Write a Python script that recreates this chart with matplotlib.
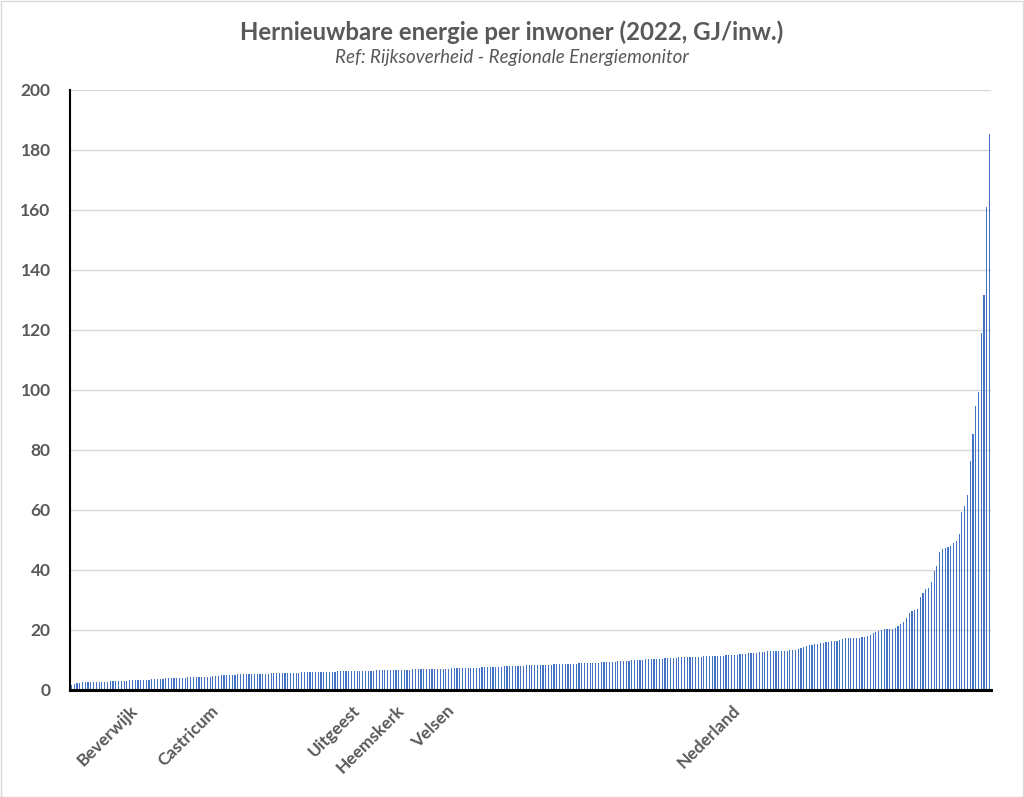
import matplotlib
matplotlib.use("Agg")
import matplotlib.pyplot as plt
from matplotlib.patches import Rectangle
from matplotlib.transforms import ScaledTranslation

plt.rcParams['font.family'] = ['Lato', 'DejaVu Sans']

title = "Hernieuwbare energie per inwoner (2022, GJ/inw.)"
subtitle = "Ref: Rijksoverheid - Regionale Energiemonitor"

# Renewable energy per inhabitant (GJ), municipalities sorted ascending
values = [
    1.7, 1.9, 2.2, 2.4, 2.6, 2.6, 2.6, 2.7, 2.7, 2.7,
    2.7, 2.8, 2.8, 2.8, 2.9, 2.9, 2.9, 3.0, 3.0, 3.1,
    3.1, 3.2, 3.3, 3.3, 3.4, 3.4, 3.5, 3.5, 3.5, 3.6,
    3.6, 3.6, 3.7, 3.8, 3.9, 3.9, 3.9, 4.0, 4.0, 4.0,
    4.1, 4.1, 4.2, 4.2, 4.2, 4.3, 4.3, 4.4, 4.4, 4.4,
    4.5, 4.6, 4.7, 4.8, 4.9, 4.9, 5.0, 5.0, 5.1, 5.1,
    5.2, 5.2, 5.2, 5.3, 5.3, 5.3, 5.4, 5.4, 5.4, 5.5,
    5.5, 5.5, 5.6, 5.6, 5.6, 5.7, 5.7, 5.7, 5.7, 5.8,
    5.8, 5.8, 5.8, 5.9, 5.9, 5.9, 5.9, 5.9, 6.0, 6.0,
    6.0, 6.0, 6.0, 6.1, 6.1, 6.1, 6.2, 6.2, 6.2, 6.3,
    6.3, 6.3, 6.3, 6.4, 6.4, 6.4, 6.5, 6.5, 6.5, 6.5,
    6.6, 6.6, 6.6, 6.6, 6.7, 6.7, 6.7, 6.7, 6.8, 6.8,
    6.8, 6.8, 6.8, 6.9, 6.9, 6.9, 6.9, 6.9, 7.0, 7.0,
    7.0, 7.0, 7.0, 7.1, 7.1, 7.1, 7.1, 7.2, 7.2, 7.2,
    7.3, 7.3, 7.3, 7.4, 7.4, 7.5, 7.5, 7.5, 7.6, 7.6,
    7.7, 7.7, 7.7, 7.8, 7.8, 7.8, 7.9, 7.9, 8.0, 8.0,
    8.0, 8.1, 8.1, 8.1, 8.2, 8.2, 8.2, 8.3, 8.3, 8.4,
    8.4, 8.4, 8.5, 8.5, 8.6, 8.6, 8.6, 8.7, 8.7, 8.7,
    8.8, 8.8, 8.8, 8.9, 8.9, 8.9, 9.0, 9.0, 9.0, 9.1,
    9.1, 9.2, 9.3, 9.3, 9.4, 9.5, 9.5, 9.6, 9.7, 9.7,
    9.8, 9.8, 9.9, 9.9, 10.0, 10.1, 10.1, 10.2, 10.3, 10.3,
    10.4, 10.4, 10.5, 10.5, 10.6, 10.7, 10.7, 10.8, 10.8, 10.9,
    10.9, 10.9, 11.0, 11.0, 11.0, 11.1, 11.1, 11.1, 11.2, 11.2,
    11.3, 11.3, 11.4, 11.4, 11.5, 11.5, 11.6, 11.6, 11.7, 11.7,
    11.8, 11.9, 12.0, 12.1, 12.2, 12.3, 12.4, 12.5, 12.6, 12.7,
    12.8, 12.9, 13.0, 13.0, 13.0, 13.1, 13.1, 13.1, 13.1, 13.2,
    13.2, 13.5, 13.8, 14.1, 14.3, 14.6, 14.9, 15.1, 15.3, 15.5,
    15.7, 15.8, 15.9, 16.0, 16.2, 16.3, 16.4, 16.7, 17.0, 17.2,
    17.3, 17.3, 17.3, 17.3, 17.3, 17.6, 17.8, 18.1, 18.5, 19.0,
    19.4, 19.7, 20.0, 20.2, 20.3, 20.4, 20.5, 20.7,
    21.4, 22.0, 22.7, 24.0, 25.7, 26.4, 26.6, 27.0, 31.1, 32.5,
    33.8, 34.1, 36.0, 39.7, 41.4, 46.1, 46.9, 47.4, 47.6, 48.0,
    49.0, 49.7, 52.0, 59.5, 61.5, 65.0, 76.4, 85.4, 94.6, 99.4,
    119.0, 131.6, 160.9, 185.5,
]

# Named categories (all other municipalities are unlabeled)
label_names = ["Beverwijk", "Castricum", "Uitgeest", "Heemskerk", "Velsen", "Nederland"]
label_positions = [22, 51, 102, 118, 136, 239]

y_ticks = [0, 20, 40, 60, 80, 100, 120, 140, 160, 180, 200]

text_color = "#595959"
bar_color = "#4472C4"
grid_color = "#D9D9D9"

W, H = 1024, 797
fig = plt.figure(figsize=(W / 100, H / 100), dpi=100)
fig.patch.set_facecolor("white")

left, right, top, bottom = 70, 991, 90, 690
ax = fig.add_axes([left / W, 1 - bottom / H, (right - left) / W, (bottom - top) / H])

x = list(range(len(values)))
ax.bar(x, values, width=0.42, color=bar_color, linewidth=0, zorder=3)

ax.set_xlim(-0.5, len(values) - 0.5)
ax.set_ylim(0, 200)
ax.set_yticks(y_ticks)
ax.set_yticklabels([str(t) for t in y_ticks], fontsize=12.5, fontweight="bold", color=text_color)
ax.tick_params(axis="y", length=0, pad=14)

ax.set_xticks(label_positions)
ax.set_xticklabels(label_names, rotation=45, ha="right", va="center",
                   rotation_mode="anchor", fontsize=12.5, fontweight="bold", color=text_color)
ax.tick_params(axis="x", length=0, pad=13)
shift = ScaledTranslation(3 / 100, 0, fig.dpi_scale_trans)
for lbl in ax.get_xticklabels():
    lbl.set_transform(lbl.get_transform() + shift)

ax.grid(axis="y", color=grid_color, linewidth=1.0, zorder=0)
ax.set_axisbelow(True)
for s in ["top", "right"]:
    ax.spines[s].set_visible(False)
ax.spines["left"].set_color("black")
ax.spines["left"].set_linewidth(1.5)
ax.spines["left"].set_zorder(4)
ax.spines["bottom"].set_color("black")
ax.spines["bottom"].set_linewidth(2.2)
ax.spines["bottom"].set_zorder(4)

fig.text(0.5, 1 - 32 / H, title, ha="center", va="center", fontsize=17.3,
         fontweight="bold", color=text_color)
fig.text(0.5, 1 - 57 / H, subtitle, ha="center", va="center", fontsize=13.5,
         fontstyle="italic", color=text_color)

fig.patches.append(Rectangle((0.5 / W, 0.5 / H), 1 - 1.5 / W, 1 - 1.5 / H,
                             transform=fig.transFigure, fill=False,
                             edgecolor=grid_color, linewidth=1.0))

fig.savefig("out.png", dpi=100, facecolor="white")
